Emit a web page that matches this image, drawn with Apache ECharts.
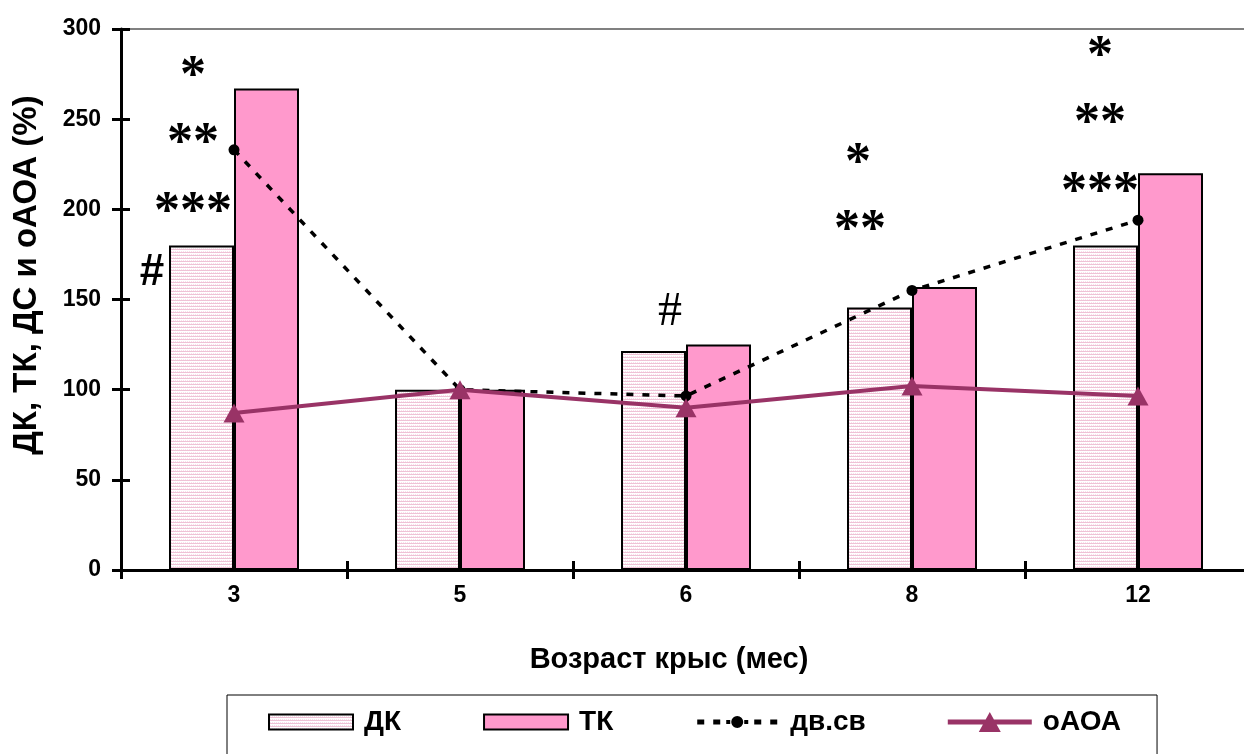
<!DOCTYPE html>
<html>
<head>
<meta charset="utf-8">
<script src="https://cdn.jsdelivr.net/npm/echarts@6/dist/echarts.min.js"></script>
<style>
  html, body { margin: 0; padding: 0; background: #fff; }
  #chart { width: 1244px; height: 754px; }
</style>
</head>
<body>
<div id="chart"></div>
<script>
// Age groups of the rats (months)
const categories = ['3', '5', '6', '8', '12'];

// Series values (% of control)
const dkValues   = [180, 100, 121.5, 145.5, 180];
const tkValues   = [267, 100, 125, 157, 220];
const dvsvValues = [233, 100, 96.5, 155, 194];
const oaoaValues = [87, 100, 90, 102, 96.5];

// Value axis range
const yMin = 0;
const yMax = 300;
const yStep = 50;

// Significance marks: category, value level, text
const sigCats   = ['3', '3', '3', '3', '6', '8', '8', '12', '12', '12'];
const sigLevels = [279, 242, 204, 165, 143, 231, 194, 290, 253, 215];
const sigTexts  = ['*', '**', '***', '#', '#', '*', '**', '*', '**', '***'];
// horizontal shift of each mark from the category centre, and font kind
const sigShift  = [-41, -41, -41, -82, -16, -54, -52, -38, -38, -38];
const sigFont   = ['star', 'star', 'star', 'hashBold', 'hashSerif', 'star', 'star', 'star', 'star', 'star'];

const FONT = '"Liberation Sans", Arial, sans-serif';
const SERIF = '"Liberation Serif", serif';

// fine pinkish texture for the ДК bars
function makeTexture() {
  const c = document.createElement('canvas');
  c.width = 2; c.height = 3;
  const g = c.getContext('2d');
  g.fillStyle = '#ffffff';
  g.fillRect(0, 0, 2, 3);
  g.fillStyle = '#efc2d6';
  g.fillRect(0, 0, 2, 1);
  g.fillStyle = '#f8e0eb';
  g.fillRect(1, 2, 1, 1);
  return c;
}
const dkFill = { image: makeTexture(), repeat: 'repeat' };

const markData = sigTexts.map((t, i) => {
  let font, size, dy, weight = 'bold';
  if (sigFont[i] === 'star') { font = SERIF; size = 52; dy = 11; }
  else if (sigFont[i] === 'hashBold') { font = FONT; size = 44; dy = 0; }
  else { font = SERIF; size = 48; dy = 0; weight = 'normal'; }
  return {
    coord: [sigCats[i], sigLevels[i]],
    label: {
      show: true,
      position: 'inside',
      formatter: t,
      offset: [sigShift[i], dy],
      fontFamily: font,
      fontSize: size,
      fontWeight: weight,
      color: '#000'
    }
  };
});

// legend glyphs drawn in an 84 x 22 box (corner moves keep the box size)
const ICON_BAR  = 'path://M0,0 M0,3.5 L84,3.5 L84,18.5 L0,18.5 Z M84,22';
const ICON_DASH = 'path://M0,0 M2,8.5 L9,8.5 L9,13.5 L2,13.5 Z M18,8.5 L25,8.5 L25,13.5 L18,13.5 Z ' +
                  'M31,9 L35,9 L35,13 L31,13 Z M49,9 L53,9 L53,13 L49,13 Z ' +
                  'M36,11 A6,6 0 1 0 48,11 A6,6 0 1 0 36,11 Z ' +
                  'M59,8.5 L66,8.5 L66,13.5 L59,13.5 Z M75,8.5 L82,8.5 L82,13.5 L75,13.5 Z M84,22';
const ICON_TRI  = 'path://M0,0 M0,8.5 L84,8.5 L84,13.5 L0,13.5 Z M42,1 L53,21 L31,21 Z M84,22';

const chart = echarts.init(document.getElementById('chart'), null, { renderer: 'canvas' });

const option = {
  backgroundColor: '#ffffff',
  animation: false,
  grid: { left: 121, top: 29, width: 1130, height: 541, containLabel: false, outerBoundsMode: 'none' },
  xAxis: [
    {
      type: 'category',
      data: categories,
      position: 'bottom',
      axisLine: { show: true, onZero: false, lineStyle: { color: '#000', width: 3 } },
      axisTick: { show: true, alignWithLabel: false, length: 9, lineStyle: { color: '#000', width: 3 } },
      axisLabel: { margin: 14, color: '#000', fontFamily: FONT, fontWeight: 'bold', fontSize: 23 },
      splitLine: { show: false },
      z: 5
    },
    {
      type: 'category',
      data: categories,
      position: 'top',
      axisLine: { show: true, onZero: false, lineStyle: { color: '#808080', width: 2 } },
      axisTick: { show: false },
      axisLabel: { show: false },
      splitLine: { show: false }
    },
    {
      type: 'category',
      data: categories,
      position: 'bottom',
      axisLine: { show: false, onZero: false },
      axisTick: { show: true, inside: true, length: 9, lineStyle: { color: '#000', width: 3 } },
      axisLabel: { show: false },
      splitLine: { show: false },
      z: 5
    }
  ],
  yAxis: [
    {
      type: 'value',
      min: yMin, max: yMax, interval: yStep,
      position: 'left',
      axisLine: { show: true, onZero: false, lineStyle: { color: '#000', width: 3 } },
      axisTick: { show: true, length: 9, lineStyle: { color: '#000', width: 3 } },
      axisLabel: { margin: 20, color: '#000', fontFamily: FONT, fontWeight: 'bold', fontSize: 23 },
      splitLine: { show: false },
      z: 5
    },
    {
      type: 'value',
      min: yMin, max: yMax, interval: yStep,
      position: 'left',
      axisLine: { show: false, onZero: false },
      axisTick: { show: true, inside: true, length: 9, lineStyle: { color: '#000', width: 3 } },
      axisLabel: { show: false },
      splitLine: { show: false },
      z: 5
    }
  ],
  legend: {
    left: 227,
    top: 695,
    orient: 'horizontal',
    padding: [13, 36, 60, 41],
    itemGap: 82,
    itemWidth: 84,
    itemHeight: 22,
    borderColor: '#000',
    borderWidth: 1,
    textStyle: { fontFamily: FONT, fontWeight: 'bold', fontSize: 28, color: '#000', padding: [0, 0, 0, 6] },
    data: [
      { name: 'ДК', icon: ICON_BAR },
      { name: 'ТК', icon: ICON_BAR },
      { name: 'дв.св', icon: ICON_DASH, itemStyle: { color: '#000', borderWidth: 0 } },
      { name: 'оАОА', icon: ICON_TRI, itemStyle: { color: '#993366', borderWidth: 0 } }
    ]
  },
  series: [
    {
      name: 'ДК',
      type: 'bar',
      data: dkValues,
      barWidth: 65,
      barGap: '0%',
      itemStyle: { color: dkFill, borderColor: '#000', borderWidth: 2 }
    },
    {
      name: 'ТК',
      type: 'bar',
      data: tkValues,
      barWidth: 65,
      barGap: '0%',
      itemStyle: { color: '#ff99cc', borderColor: '#000', borderWidth: 2 }
    },
    {
      name: 'дв.св',
      type: 'line',
      data: dvsvValues,
      symbol: 'circle',
      symbolSize: 11,
      itemStyle: { color: '#000' },
      lineStyle: { color: '#000', width: 3.5, type: [7, 9] },
      z: 3,
      markPoint: {
        symbol: 'circle',
        symbolSize: 1,
        itemStyle: { color: 'rgba(0,0,0,0)' },
        data: markData,
        z: 6
      }
    },
    {
      name: 'оАОА',
      type: 'line',
      data: oaoaValues,
      symbol: 'triangle',
      symbolSize: [21, 19],
      itemStyle: { color: '#993366' },
      lineStyle: { color: '#993366', width: 4 },
      z: 4
    }
  ],
  graphic: [
    {
      type: 'text',
      x: 669, y: 660,
      style: {
        text: 'Возраст крыс (мес)',
        fontFamily: FONT, fontWeight: 'bold', fontSize: 29,
        fill: '#000', textAlign: 'center', textVerticalAlign: 'middle'
      }
    },
    {
      type: 'text',
      x: 27, y: 275,
      rotation: Math.PI / 2,
      style: {
        text: 'ДК, ТК, ДС и оАОА (%)',
        fontFamily: FONT, fontWeight: 'bold', fontSize: 33,
        fill: '#000', textAlign: 'center', textVerticalAlign: 'middle'
      }
    }
  ]
};

chart.setOption(option);
</script>
</body>
</html>
